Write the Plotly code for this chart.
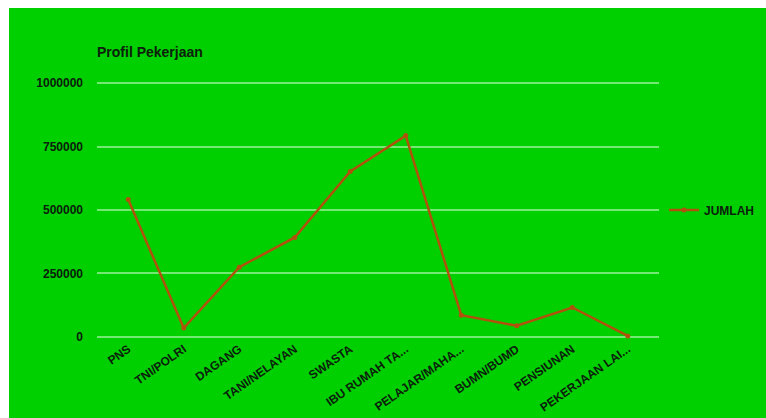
import plotly.graph_objects as go

categories = ["PNS", "TNI/POLRI", "DAGANG", "TANI/NELAYAN", "SWASTA",
              "IBU RUMAH TA...", "PELAJAR/MAHA...", "BUMN/BUMD",
              "PENSIUNAN", "PEKERJAAN LAI..."]
jumlah = [541000, 35000, 275000, 392000, 652000, 793000, 86000, 44000, 116000, 4000]
y_ticks = [0, 250000, 500000, 750000, 1000000]

GREEN = "#00d000"
LINE = "#b0520e"
GRID = "#74ea74"
TXT = "#0c200c"
FONT = "Liberation Sans, Arial, sans-serif"

fig = go.Figure()
fig.add_trace(go.Scatter(
    x=categories, y=jumlah, name="JUMLAH", mode="lines+markers",
    line=dict(color=LINE, width=2.5),
    marker=dict(color=LINE, size=5),
    cliponaxis=False,
))

W, H = 766, 418
L, R, T, B = 97, 107, 81, 79
pw, ph = W - L - R, H - T - B

def px2x(px):
    return (px - L) / pw

def py2y(py):
    return (H - B - py) / ph

# white strips along the left and top edges
fig.add_shape(type="rect", xref="paper", yref="paper",
              x0=px2x(-2), x1=px2x(9), y0=py2y(H + 2), y1=py2y(-2),
              fillcolor="white", line=dict(width=0), layer="below")
fig.add_shape(type="rect", xref="paper", yref="paper",
              x0=px2x(-2), x1=px2x(W + 2), y0=py2y(8), y1=py2y(-2),
              fillcolor="white", line=dict(width=0), layer="below")

fig.update_layout(
    width=W, height=H,
    margin=dict(l=L, r=R, t=T, b=B, pad=0, autoexpand=False),
    paper_bgcolor=GREEN, plot_bgcolor="rgba(0,0,0,0)",
    font=dict(family=FONT, size=11, color=TXT),
    title=dict(text="<b>Profil Pekerjaan</b>", x=0, xref="paper",
               xanchor="left", y=1 - 52 / H, yanchor="middle",
               font=dict(size=14, color=TXT)),
    showlegend=True,
    legend=dict(x=px2x(664), y=py2y(210), xanchor="left", yanchor="middle",
                bgcolor="rgba(0,0,0,0)", font=dict(size=12, color=TXT, weight="bold")),
    xaxis=dict(type="category", showgrid=False, zeroline=False, showline=False,
               ticks="", tickangle=-35, automargin=False,
               tickfont=dict(size=12, color=TXT, weight="bold")),
    yaxis=dict(range=[-8000, 1008000], tickvals=y_ticks,
               ticktext=[str(v) for v in y_ticks],
               showgrid=True, gridcolor=GRID, gridwidth=2,
               zeroline=False, showline=False, ticks="", automargin=False,
               ticklabelstandoff=13,
               tickfont=dict(size=12, color=TXT, weight="bold")),
)

fig.write_html("out.html")
